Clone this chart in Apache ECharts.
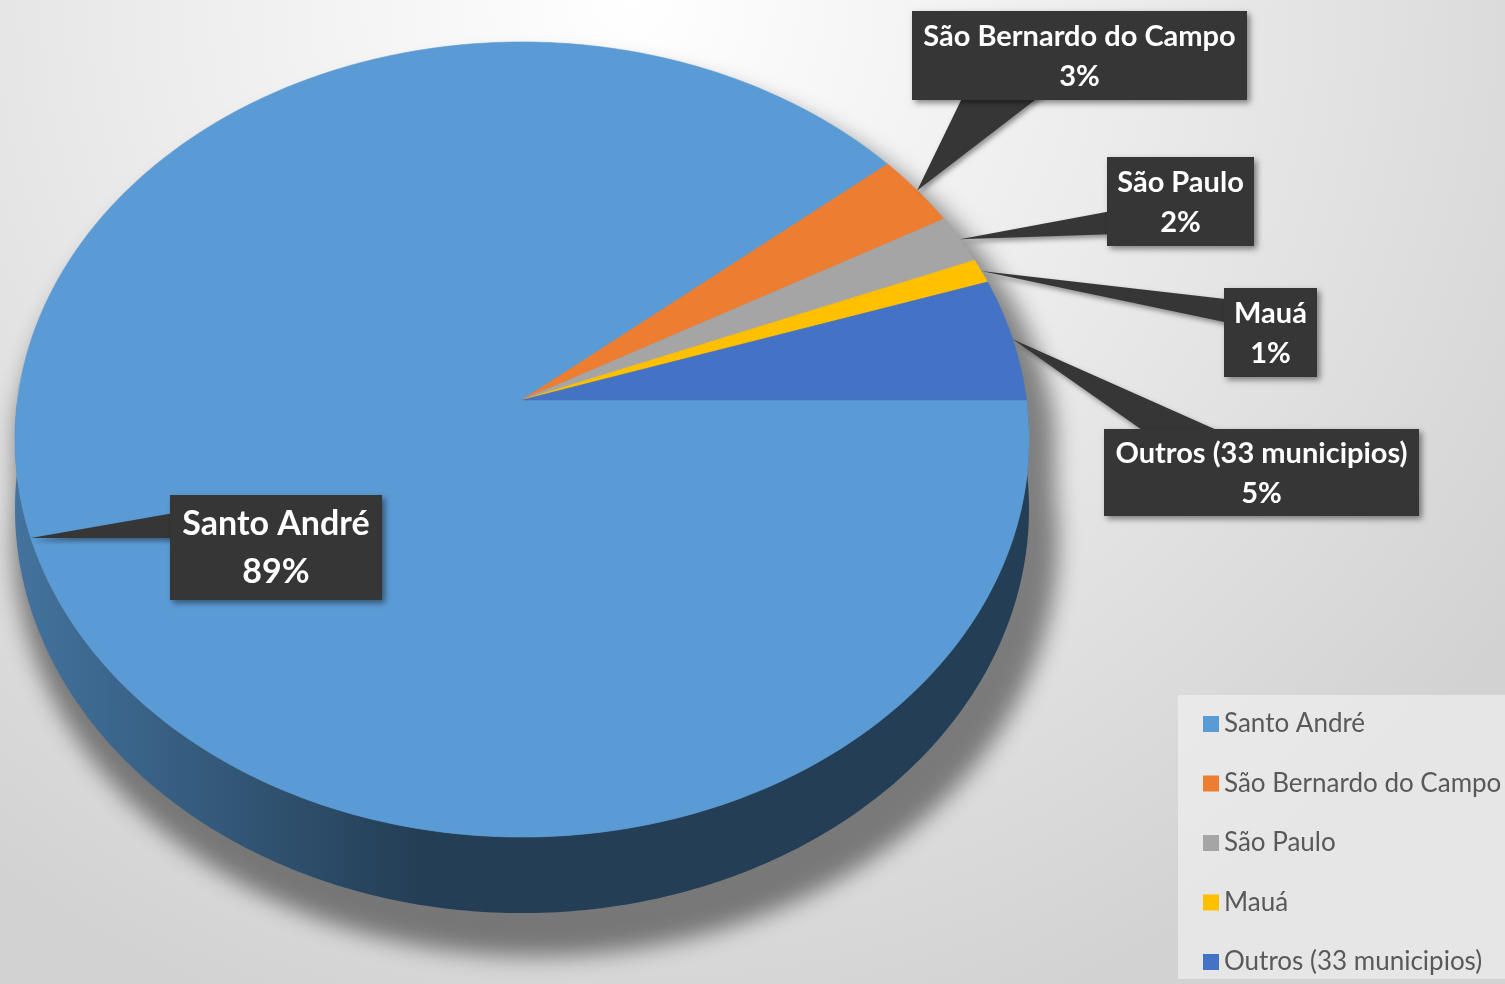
<!DOCTYPE html>
<html>
<head>
<meta charset="utf-8">
<script src="https://cdn.jsdelivr.net/npm/echarts@6/dist/echarts.min.js"></script>
<style>
html,body{margin:0;padding:0;background:#fff;}
#chart{width:1505px;height:984px;}
</style>
</head>
<body>
<div id="chart"></div>
<script>
// ---- data ----
const categories = ['Santo André', 'São Bernardo do Campo', 'São Paulo', 'Mauá', 'Outros (33 municipios)'];
const shares = [89, 3, 2, 1, 5];
const colors = ['#5b9bd5', '#ed7d31', '#a5a5a5', '#ffc000', '#4472c4'];

const TOTAL = shares.reduce((a, b) => a + b, 0);
const starts = [];
shares.reduce((acc, v, i) => { starts[i] = acc; return acc + v; }, 0);

// ---- layout / styling (not data) ----
const K = 0.0994;      // perspective factor
const TILT = 0.7802;   // vertical squash
const DEPTH = 68.5;    // side thickness
const LABELS = [
  {x: 170, y: 495, w: 212, h: 105, fs: 34, lh: 48, side: 'left', a: 512, b: 538},
  {x: 912, y: 11, w: 335, h: 89, fs: 29, lh: 40, side: 'bottom', a: 966, b: 1048},
  {x: 1107, y: 157, w: 147, h: 89, fs: 29, lh: 40, side: 'left', a: 210, b: 234},
  {x: 1224, y: 288, w: 93, h: 89, fs: 29, lh: 40, side: 'left', a: 300, b: 324},
  {x: 1104, y: 429, w: 315, h: 87, fs: 29, lh: 40, side: 'top', a: 1155, b: 1237}
];

function shade(hex, f) {
  const n = parseInt(hex.slice(1), 16);
  const r = Math.round(((n >> 16) & 255) * f), g = Math.round(((n >> 8) & 255) * f), b = Math.round((n & 255) * f);
  return 'rgb(' + r + ',' + g + ',' + b + ')';
}

function makeProjector(api) {
  const c = api.coord([0, 0]);
  const e = api.coord([1, 0]);
  const R = Math.hypot(e[0] - c[0], e[1] - c[1]);
  return function (val, r) {
    const p = api.coord([r, val]);
    const u = (p[0] - c[0]) / R, v = -(p[1] - c[1]) / R;
    const w = 1 + K * v;
    return {x: c[0] + R * u / w, y: c[1] - R * TILT * v / w, w: w};
  };
}

function renderItem(params, api) {
  const idx = params.seriesIndex;
  const val = api.value(0), s = api.value(1), e = api.value(2);
  const P = makeProjector(api);
  const color = colors[idx];
  const children = [];
  const step = 0.2;
  const c = P(0, 0);

  // soft shadow of whole pie (drawn once)
  if (idx === 0) {
    const sil = [];
    for (let t = TOTAL / 2; t <= TOTAL; t += step) { const q = P(t, 1); sil.push([q.x, q.y]); }
    for (let t = 0; t <= TOTAL / 2; t += step) { const q = P(t, 1); sil.push([q.x, q.y + DEPTH / q.w]); }
    const OFF = 5000;
    const sc = 1.03;
    children.push({
      type: 'polygon', x: -OFF, z2: -10, silent: true,
      shape: {points: sil.map(p => [c.x + (p[0] - c.x) * sc, c.y + 28 + (p[1] - c.y) * sc])},
      style: {fill: '#000', shadowBlur: 22, shadowColor: 'rgba(0,0,0,0.45)', shadowOffsetX: OFF + 14, shadowOffsetY: 0}
    });
  }

  // side face (front half only)
  const a = Math.max(s, 0), b = Math.min(e, TOTAL / 2);
  if (b > a) {
    const pts = [];
    for (let t = a; t < b; t += step) { const q = P(t, 1); pts.push([q.x, q.y]); }
    let q = P(b, 1); pts.push([q.x, q.y]);
    for (let t = b; t > a; t -= step) { q = P(t, 1); pts.push([q.x, q.y + DEPTH / q.w]); }
    q = P(a, 1); pts.push([q.x, q.y + DEPTH / q.w]);
    const dark = shade(color, 0.4);
    children.push({
      type: 'polygon', z2: 5, shape: {points: pts},
      style: {
        fill: new echarts.graphic.LinearGradient(0, 0, 1, 0, [
          {offset: 0, color: shade(color, 0.74)},
          {offset: 0.4, color: dark},
          {offset: 1, color: dark}
        ])
      }
    });
  }

  // top face
  const top = [[c.x, c.y]];
  for (let t = s; t < e; t += step) { const q = P(t, 1); top.push([q.x, q.y]); }
  const qe = P(e, 1); top.push([qe.x, qe.y]);
  children.push({
    type: 'polygon', z2: 10, shape: {points: top},
    style: {fill: color, stroke: color, lineWidth: 0.6}
  });

  // callout label
  const L = LABELS[idx];
  const tip = P((s + e) / 2, 1);
  let b1, b2;
  if (L.side === 'left') { b1 = [L.x + 10, L.a]; b2 = [L.x + 10, L.b]; }
  else if (L.side === 'bottom') { b1 = [L.a, L.y + L.h - 10]; b2 = [L.b, L.y + L.h - 10]; }
  else { b1 = [L.a, L.y + 10]; b2 = [L.b, L.y + 10]; }
  children.push({
    type: 'polygon', z2: 20, shape: {points: [[tip.x, tip.y], b1, b2]},
    style: {fill: '#363636', shadowBlur: 5, shadowOffsetX: 2, shadowOffsetY: 3, shadowColor: 'rgba(0,0,0,0.4)'}
  });
  children.push({
    type: 'rect', z2: 21, shape: {x: L.x, y: L.y, width: L.w, height: L.h},
    style: {fill: '#363636', shadowBlur: 6, shadowOffsetX: 3, shadowOffsetY: 3, shadowColor: 'rgba(0,0,0,0.45)'}
  });
  const pct = Math.round(val / TOTAL * 100) + '%';
  children.push({
    type: 'text', z2: 22,
    style: {
      text: categories[idx] + '\n' + pct,
      x: L.x + L.w / 2, y: L.y + L.h / 2 + 1,
      align: 'center', verticalAlign: 'middle',
      fill: '#ffffff', fontFamily: 'Lato', fontWeight: 'bold', fontSize: L.fs, lineHeight: L.lh
    }
  });

  return {type: 'group', children: children};
}

const chart = echarts.init(document.getElementById('chart'), null, {renderer: 'canvas'});
chart.setOption({
  animation: false,
  backgroundColor: {
    type: 'radial', x: 0.42, y: 0.0, r: 1.1,
    colorStops: [
      {offset: 0, color: '#ffffff'},
      {offset: 0.45, color: '#ececec'},
      {offset: 1, color: '#d2d2d2'}
    ]
  },
  polar: {center: [522, 400], radius: 504.5},
  angleAxis: {
    type: 'value', min: 0, max: TOTAL, startAngle: 0, clockwise: true,
    axisLine: {show: false}, axisTick: {show: false}, axisLabel: {show: false}, splitLine: {show: false}
  },
  radiusAxis: {
    type: 'value', min: 0, max: 1,
    axisLine: {show: false}, axisTick: {show: false}, axisLabel: {show: false}, splitLine: {show: false}
  },
  legend: {
    data: categories,
    orient: 'vertical',
    left: 1178, top: 695,
    padding: [14, 12, 2, 25],
    backgroundColor: 'rgba(244,244,244,0.6)',
    icon: 'rect', itemWidth: 16, itemHeight: 16, itemGap: 29.5,
    selectedMode: false,
    textStyle: {fontFamily: 'Lato', fontSize: 26, color: '#595959', lineHeight: 30}
  },
  series: categories.map((name, i) => ({
    type: 'custom',
    name: name,
    coordinateSystem: 'polar',
    silent: true,
    itemStyle: {color: colors[i]},
    renderItem: renderItem,
    data: [[shares[i], starts[i], starts[i] + shares[i]]]
  }))
});
</script>
</body>
</html>
